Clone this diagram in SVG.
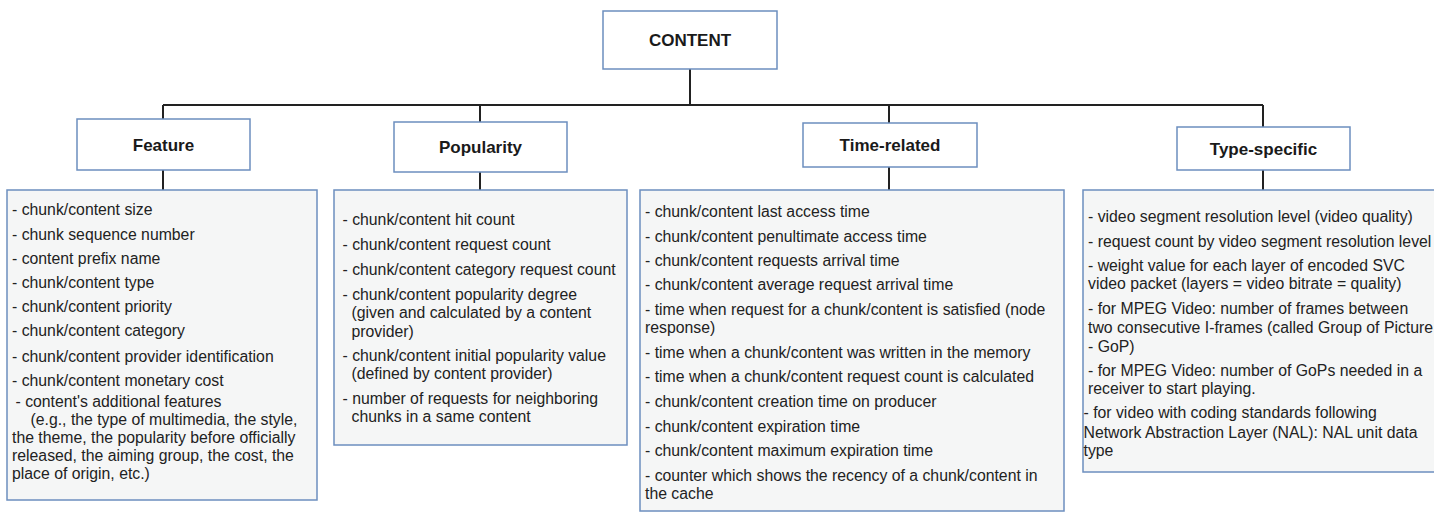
<svg xmlns="http://www.w3.org/2000/svg" width="1434" height="513" viewBox="0 0 1434 513">
  <style>
    .title-box { fill: #ffffff; stroke: #6c8ebf; stroke-width: 1.5; }
    .list-box { fill: #f5f6f6; stroke: #6c8ebf; stroke-width: 1.5; }
    .title { font-family: "Liberation Sans", Arial, Helvetica, sans-serif; font-weight: bold; font-size: 17px; fill: #1a1a1a; text-anchor: middle; }
    .item { font-family: "Liberation Sans", Arial, Helvetica, sans-serif; font-size: 15.8px; fill: #222222; }
    .link { fill: none; stroke: #222222; stroke-width: 2; }
  </style>

  <!-- tree connectors -->
  <g id="connectors">
    <path class="link" d="M690 69 V105"/>
    <path class="link" d="M163 105 H1263"/>
    <path class="link" d="M163 105 V119"/>
    <path class="link" d="M480 105 V122"/>
    <path class="link" d="M889 105 V123"/>
    <path class="link" d="M1263 105 V127"/>
    <path class="link" d="M163 170 V190"/>
    <path class="link" d="M480 172 V190"/>
    <path class="link" d="M889 167 V190"/>
    <path class="link" d="M1263 170 V190"/>
  </g>

  <!-- root -->
  <g id="content">
    <rect class="title-box" x="603" y="11" width="174" height="58"/>
    <text class="title" x="690" y="46">CONTENT</text>
  </g>

  <!-- Feature branch -->
  <g id="feature">
    <rect class="title-box" x="77" y="119" width="173" height="51"/>
    <text class="title" x="163.5" y="151">Feature</text>
  </g>
  <g id="feature-list">
    <rect class="list-box" x="7" y="190" width="310" height="310"/>
    <text class="item" x="12" y="215">- chunk/content size</text>
    <text class="item" x="12" y="239.5">- chunk sequence number</text>
    <text class="item" x="12" y="264">- content prefix name</text>
    <text class="item" x="12" y="288">- chunk/content type</text>
    <text class="item" x="12" y="312">- chunk/content priority</text>
    <text class="item" x="12" y="336">- chunk/content category</text>
    <text class="item" x="12" y="362">- chunk/content provider identification</text>
    <text class="item" x="12" y="386">- chunk/content monetary cost</text>
    <text class="item" x="15.5" y="407">- content's additional features</text>
    <text class="item" x="30.5" y="425">(e.g., the type of multimedia, the style,</text>
    <text class="item" x="12" y="443">the theme, the popularity before officially</text>
    <text class="item" x="12" y="461">released, the aiming group, the cost, the</text>
    <text class="item" x="12" y="479">place of origin, etc.)</text>
  </g>

  <!-- Popularity branch -->
  <g id="popularity">
    <rect class="title-box" x="394" y="122" width="173" height="50"/>
    <text class="title" x="480.5" y="153">Popularity</text>
  </g>
  <g id="popularity-list">
    <rect class="list-box" x="334" y="190" width="293" height="255"/>
    <text class="item" x="342.5" y="225">- chunk/content hit count</text>
    <text class="item" x="342.5" y="250">- chunk/content request count</text>
    <text class="item" x="342.5" y="275">- chunk/content category request count</text>
    <text class="item" x="342.5" y="299.5">- chunk/content popularity degree</text>
    <text class="item" x="351.5" y="318">(given and calculated by a content</text>
    <text class="item" x="351.5" y="336.5">provider)</text>
    <text class="item" x="342.5" y="361">- chunk/content initial popularity value</text>
    <text class="item" x="351.5" y="379">(defined by content provider)</text>
    <text class="item" x="342.5" y="404">- number of requests for neighboring</text>
    <text class="item" x="351.5" y="422">chunks in a same content</text>
  </g>

  <!-- Time-related branch -->
  <g id="time-related">
    <rect class="title-box" x="803" y="123" width="174" height="44"/>
    <text class="title" x="890" y="151">Time-related</text>
  </g>
  <g id="time-related-list">
    <rect class="list-box" x="640" y="190" width="424" height="321"/>
    <text class="item" x="645" y="216.5">- chunk/content last access time</text>
    <text class="item" x="645" y="241.5">- chunk/content penultimate access time</text>
    <text class="item" x="645" y="265.5">- chunk/content requests arrival time</text>
    <text class="item" x="645" y="290">- chunk/content average request arrival time</text>
    <text class="item" x="645" y="315">- time when request for a chunk/content is satisfied (node</text>
    <text class="item" x="645" y="333">response)</text>
    <text class="item" x="645" y="357.5">- time when a chunk/content was written in the memory</text>
    <text class="item" x="645" y="382">- time when a chunk/content request count is calculated</text>
    <text class="item" x="645" y="406.5">- chunk/content creation time on producer</text>
    <text class="item" x="645" y="431.5">- chunk/content expiration time</text>
    <text class="item" x="645" y="455.5">- chunk/content maximum expiration time</text>
    <text class="item" x="645" y="481">- counter which shows the recency of a chunk/content in</text>
    <text class="item" x="645" y="499">the cache</text>
  </g>

  <!-- Type-specific branch -->
  <g id="type-specific">
    <rect class="title-box" x="1177" y="127" width="173" height="43"/>
    <text class="title" x="1263.5" y="155">Type-specific</text>
  </g>
  <g id="type-specific-list">
    <rect class="list-box" x="1083" y="190" width="360" height="282"/>
    <text class="item" x="1088" y="221.5">- video segment resolution level (video quality)</text>
    <text class="item" x="1088" y="246.5">- request count by video segment resolution level</text>
    <text class="item" x="1088" y="271">- weight value for each layer of encoded SVC</text>
    <text class="item" x="1088" y="289">video packet (layers = video bitrate = quality)</text>
    <text class="item" x="1088" y="314">- for MPEG Video: number of frames between</text>
    <text class="item" x="1088" y="333">two consecutive I-frames (called Group of Picture</text>
    <text class="item" x="1088" y="351.5">- GoP)</text>
    <text class="item" x="1088" y="376">- for MPEG Video: number of GoPs needed in a</text>
    <text class="item" x="1088" y="394">receiver to start playing.</text>
    <text class="item" x="1083.5" y="418">- for video with coding standards following</text>
    <text class="item" x="1083.5" y="437.5">Network Abstraction Layer (NAL): NAL unit data</text>
    <text class="item" x="1083.5" y="456">type</text>
  </g>
</svg>
